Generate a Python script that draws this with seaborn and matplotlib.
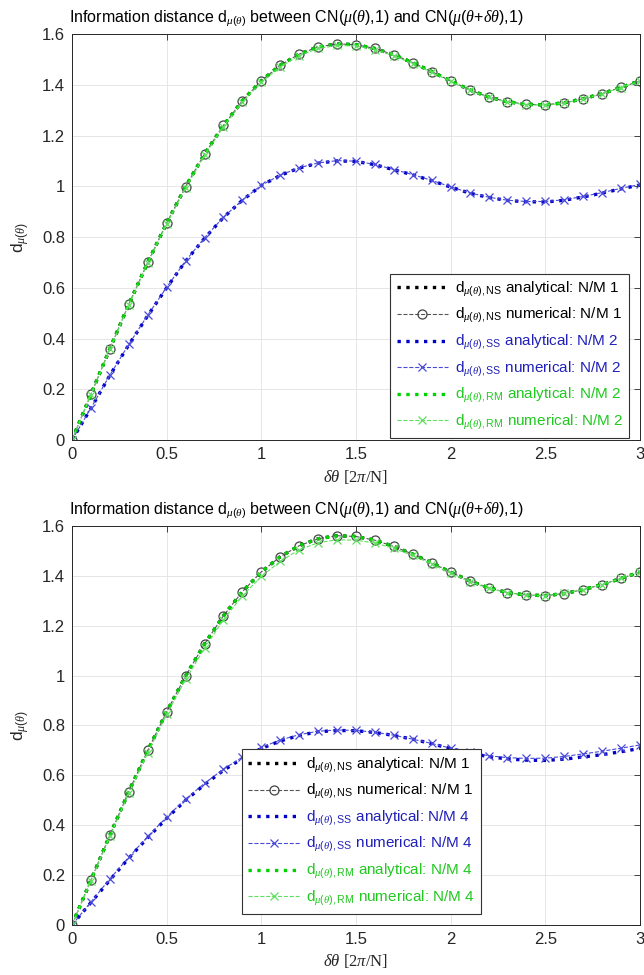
"""
Information distance vs angular offset, two panels (N/M 2 and N/M 4),
MATLAB-like styling rebuilt with seaborn.
"""

import matplotlib
matplotlib.use("Agg")
import matplotlib.pyplot as plt
import seaborn as sns

# ─── Data ───────────────────────────────────────────────────────────────

delta_theta = [0.0, 0.1, 0.2, 0.3, 0.4, 0.5, 0.6, 0.7, 0.8, 0.9, 1.0,
               1.1, 1.2, 1.3, 1.4, 1.5, 1.6, 1.7, 1.8, 1.9, 2.0,
               2.1, 2.2, 2.3, 2.4, 2.5, 2.6, 2.7, 2.8, 2.9, 3.0]

# NS (N/M 1) analytical and numerical -- shared by both panels
ns_analytical = [0.0, 0.18, 0.36, 0.535, 0.70, 0.855, 0.999, 1.127, 1.240, 1.337, 1.416,
                 1.477, 1.521, 1.549, 1.561, 1.558, 1.543, 1.518, 1.487, 1.452, 1.415,
                 1.380, 1.352, 1.333, 1.323, 1.321, 1.329, 1.345, 1.365, 1.390, 1.415]
ns_numerical = [0.0, 0.18, 0.36, 0.535, 0.70, 0.855, 0.999, 1.127, 1.240, 1.337, 1.416,
                1.477, 1.521, 1.549, 1.561, 1.558, 1.543, 1.518, 1.487, 1.452, 1.415,
                1.380, 1.352, 1.333, 1.323, 1.321, 1.329, 1.345, 1.365, 1.390, 1.415]

# top panel: N/M 2
ss_analytical_2 = [0.0, 0.125, 0.255, 0.375, 0.49, 0.60, 0.705, 0.795, 0.877, 0.945, 1.003,
                   1.043, 1.072, 1.091, 1.100, 1.098, 1.085, 1.065, 1.045, 1.022, 0.997,
                   0.973, 0.956, 0.944, 0.939, 0.938, 0.945, 0.958, 0.973, 0.990, 1.005]
ss_numerical_2 = [0.0, 0.126, 0.256, 0.377, 0.492, 0.602, 0.706, 0.797, 0.878, 0.946, 1.004,
                  1.044, 1.073, 1.092, 1.101, 1.099, 1.086, 1.066, 1.046, 1.023, 0.998,
                  0.974, 0.957, 0.945, 0.940, 0.940, 0.947, 0.960, 0.975, 0.992, 1.007]
rm_analytical_2 = [0.0, 0.18, 0.36, 0.535, 0.70, 0.855, 0.999, 1.127, 1.240, 1.337, 1.416,
                   1.477, 1.521, 1.549, 1.561, 1.558, 1.543, 1.518, 1.487, 1.452, 1.415,
                   1.380, 1.352, 1.333, 1.323, 1.321, 1.329, 1.345, 1.365, 1.390, 1.415]
rm_numerical_2 = [0.0, 0.179, 0.358, 0.532, 0.697, 0.851, 0.994, 1.122, 1.235, 1.332, 1.410,
                  1.471, 1.515, 1.543, 1.555, 1.553, 1.538, 1.514, 1.483, 1.449, 1.413,
                  1.378, 1.350, 1.331, 1.321, 1.320, 1.328, 1.344, 1.364, 1.389, 1.414]

# bottom panel: N/M 4
ss_analytical_4 = [0.0, 0.09, 0.18, 0.268, 0.35, 0.428, 0.50, 0.563, 0.62, 0.668, 0.708,
                   0.738, 0.760, 0.775, 0.780, 0.779, 0.772, 0.760, 0.745, 0.727, 0.707,
                   0.690, 0.675, 0.666, 0.661, 0.660, 0.665, 0.674, 0.683, 0.695, 0.708]
ss_numerical_4 = [0.0, 0.092, 0.185, 0.272, 0.355, 0.433, 0.505, 0.568, 0.625, 0.673, 0.712,
                  0.742, 0.763, 0.777, 0.782, 0.780, 0.773, 0.761, 0.745, 0.728, 0.709,
                  0.693, 0.679, 0.671, 0.668, 0.669, 0.676, 0.686, 0.697, 0.709, 0.722]
rm_analytical_4 = [0.0, 0.18, 0.36, 0.535, 0.70, 0.855, 0.999, 1.127, 1.240, 1.337, 1.416,
                   1.477, 1.521, 1.549, 1.561, 1.558, 1.543, 1.518, 1.487, 1.452, 1.415,
                   1.380, 1.352, 1.333, 1.323, 1.321, 1.329, 1.345, 1.365, 1.390, 1.415]
rm_numerical_4 = [0.0, 0.178, 0.355, 0.528, 0.690, 0.845, 0.985, 1.110, 1.225, 1.320, 1.398,
                  1.458, 1.505, 1.533, 1.545, 1.543, 1.532, 1.510, 1.482, 1.448, 1.410,
                  1.377, 1.350, 1.333, 1.323, 1.320, 1.330, 1.345, 1.365, 1.390, 1.415]

x_ticks = [0, 0.5, 1, 1.5, 2, 2.5, 3]
y_ticks = [0, 0.2, 0.4, 0.6, 0.8, 1.0, 1.2, 1.4, 1.6]
y_tick_labels = ["0", "0.2", "0.4", "0.6", "0.8", "1", "1.2", "1.4", "1.6"]
x_tick_labels = ["0", "0.5", "1", "1.5", "2", "2.5", "3"]

# ─── Styling ─────────────────────────────────────────────────────────────

sns.set_theme(style="whitegrid")
plt.rcParams["font.family"] = ["Liberation Sans", "DejaVu Sans"]
plt.rcParams["mathtext.fontset"] = "custom"
plt.rcParams["mathtext.rm"] = "Liberation Sans"
plt.rcParams["mathtext.it"] = "Liberation Serif:italic"
plt.rcParams["mathtext.sf"] = "Liberation Sans"

AX_COLOR = "#262626"
BLACK = "#000000"
GRAY = "#555555"
BLUE = "#0000c8"
BLUE_LIGHT = "#4a4ad8"
GREEN = "#00d200"
GREEN_LIGHT = "#5ee05e"
TITLE = (r"Information distance d$_{\mu(\theta)}$ between CN($\mu(\theta)$,1) "
         r"and CN($\mu(\theta$+$\delta\theta)$,1)")


def draw_panel(ax, ss_a, ss_n, rm_a, rm_n, nm, legend_anchor, legend_loc):
    series = [
        (ns_analytical, BLACK, ":", 2.4, None, rf"d$_{{\mu(\theta),\mathrm{{NS}}}}$ analytical: N/M 1"),
        (ns_numerical, GRAY, "--", 0.8, "o", rf"d$_{{\mu(\theta),\mathrm{{NS}}}}$ numerical: N/M 1"),
        (ss_a, BLUE, ":", 2.4, None, rf"d$_{{\mu(\theta),\mathrm{{SS}}}}$ analytical: N/M {nm}"),
        (ss_n, BLUE_LIGHT, "--", 0.8, "x", rf"d$_{{\mu(\theta),\mathrm{{SS}}}}$ numerical: N/M {nm}"),
        (rm_a, GREEN, ":", 2.4, None, rf"d$_{{\mu(\theta),\mathrm{{RM}}}}$ analytical: N/M {nm}"),
        (rm_n, GREEN_LIGHT, "--", 0.8, "x", rf"d$_{{\mu(\theta),\mathrm{{RM}}}}$ numerical: N/M {nm}"),
    ]
    text_colors = [BLACK, BLACK, "#2020b8", "#2020b8", "#20c820", "#20c820"]
    for y, color, ls, lw, marker, label in series:
        kw = dict(linestyle=ls, linewidth=lw, color=color, label=label)
        if marker == "o":
            kw.update(marker="o", markersize=6.5, markerfacecolor="none",
                      markeredgecolor="#444444", markeredgewidth=0.9)
        elif marker == "x":
            kw.update(marker="x", markersize=6, markeredgecolor=color, markeredgewidth=0.9)
        sns.lineplot(x=delta_theta, y=y, ax=ax, **kw)

    ax.set_xlim(0, 3)
    ax.set_ylim(0, 1.6)
    ax.set_xticks(x_ticks)
    ax.set_xticklabels(x_tick_labels)
    ax.set_yticks(y_ticks)
    ax.set_yticklabels(y_tick_labels)
    ax.tick_params(direction="in", length=4, width=0.6, colors=AX_COLOR,
                   labelsize=12, top=True, right=True, pad=5)
    ax.set_facecolor("white")
    ax.grid(True, color="#e2e2e2", linewidth=0.6)
    for sp in ax.spines.values():
        sp.set_color(AX_COLOR)
        sp.set_linewidth(0.7)
        sp.set_visible(True)
    ax.set_xlabel(r"$\delta\theta$ [2$\pi$/N]", fontsize=12, color=AX_COLOR,
                  family="Liberation Serif", labelpad=4)
    ax.set_ylabel(r"d$_{\mu(\theta)}$", fontsize=12.5, color=AX_COLOR, labelpad=8)
    ax.set_title(TITLE, fontsize=11.5, color=BLACK, pad=9, x=0.395)

    leg = ax.legend(loc=legend_loc, bbox_to_anchor=legend_anchor, borderaxespad=0,
                    fontsize=11, frameon=True, fancybox=False, framealpha=1,
                    edgecolor="#333333", handlelength=3.4, handletextpad=0.4,
                    labelspacing=0.5, borderpad=0.4)
    leg.get_frame().set_linewidth(0.8)
    for txt, c in zip(leg.get_texts(), text_colors):
        txt.set_color(c)


fig = plt.figure(figsize=(6.44, 9.75), dpi=100)
ax_top = fig.add_axes([0.1118, 0.5487, 0.882, 0.4164])
ax_bot = fig.add_axes([0.1118, 0.0513, 0.882, 0.4092])

draw_panel(ax_top, ss_analytical_2, ss_numerical_2, rm_analytical_2, rm_numerical_2,
           2, (0.981, 0.005), "lower right")
draw_panel(ax_bot, ss_analytical_4, ss_numerical_4, rm_analytical_4, rm_numerical_4,
           4, (0.299, 0.028), "lower left")

fig.savefig("out.png", dpi=100, facecolor="white")
